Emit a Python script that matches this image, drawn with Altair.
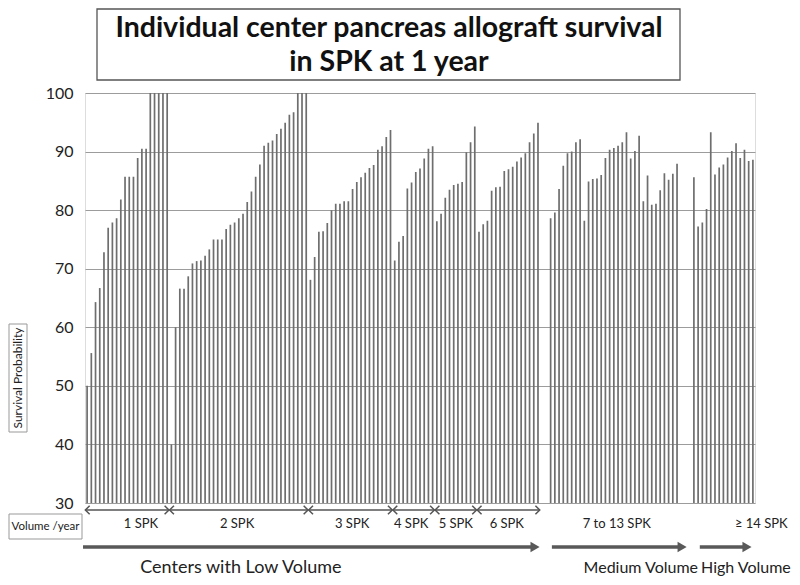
import altair as alt
import pandas as pd

# ---------------- data ----------------
group_names = ["1 SPK", "2 SPK", "3 SPK", "4 SPK", "5 SPK", "6 SPK", "7 to 13 SPK", "≥ 14 SPK"]
spk1 = [50.0, 55.6, 64.3, 66.7, 72.8, 77.0, 77.9, 78.6, 81.8, 85.7, 85.7, 85.7, 88.9, 90.5, 90.5,
        100, 100, 100, 100, 100]
spk2 = [40.0, 60.0, 66.6, 66.6, 68.7, 70.9, 71.3, 71.4, 72.2, 73.3, 75.0, 75.0, 75.0, 76.8, 77.5,
        77.9, 78.6, 79.4, 81.4, 83.2, 85.7, 87.8, 91.0, 91.5, 91.9, 93.0, 93.9, 94.9, 96.3, 96.7,
        100, 100, 100]
spk3 = [68.1, 72.0, 76.3, 76.4, 77.8, 80.0, 81.1, 81.1, 81.5, 81.5, 83.6, 84.8, 85.6, 86.4, 87.2,
        87.7, 90.3, 90.9, 92.5, 93.7]
spk4 = [71.4, 74.6, 75.6, 83.7, 84.7, 86.5, 87.1, 88.8, 90.5, 90.9]
spk5 = [78.1, 79.4, 82.1, 83.5, 84.3, 84.5, 84.8, 89.9, 91.6, 94.3]
spk6 = [76.3, 77.6, 78.2, 83.3, 83.9, 84.0, 86.7, 87.0, 87.4, 88.3, 89.0, 89.7, 91.6, 93.1, 94.9]
medium = [78.6, 79.6, 83.6, 87.6, 89.7, 90.0, 91.6, 92.1, 78.2, 84.9, 85.3, 85.4, 86.0, 88.9, 90.3,
          90.6, 91.0, 91.6, 93.3, 88.8, 90.1, 92.7, 81.5, 85.9, 80.9, 81.1, 83.4, 86.3, 85.2, 86.2,
          87.9]
high = [85.6, 77.2, 77.9, 80.2, 93.3, 86.1, 87.3, 87.8, 89.0, 90.1, 91.4, 88.9, 90.3, 88.4, 88.6]

groups = [spk1, spk2, spk3, spk4, spk5, spk6, medium, high]
empty_slots_before = [0, 0, 0, 0, 0, 0, 2, 3]

y_ticks = [30, 40, 50, 60, 70, 80, 90, 100]
volume_names = ["Centers with Low Volume", "Medium Volume", "High Volume"]

# ---------------- layout (annotation anchors in bar-slot units) ----------------
label_slot = [12.8, 35.6, 62.9, 76.9, 87.5, 99.6, 125.7, 160.0]
long_arrow_from = [-0.97, 110.3, 145.4]
long_arrow_to = [106.3, 141.2, 156.6]
volume_label_slot = [36.5, 131.4, 167.0]

# ---------------- build tables ----------------
rows, spans = [], []
slot = 0
for name, vals, gap in zip(group_names, groups, empty_slots_before):
    slot += gap
    start = slot
    for v in vals:
        rows.append({"slot": slot, "value": v, "group": name})
        slot += 1
    spans.append({"group": name, "start": start - 0.42, "end": slot - 1 + 0.42})
n_slots = slot
bars = pd.DataFrame(rows)
span_df = pd.DataFrame(spans[:6])
labels_df = pd.DataFrame({"group": group_names, "slot": label_slot})
long_df = pd.DataFrame({"name": volume_names, "start": long_arrow_from, "end": long_arrow_to})
vol_df = pd.DataFrame({"name": volume_names, "slot": volume_label_slot})

W, H = 670, 410
FONT = "Lato"
xscale = alt.Scale(domain=[-0.5, n_slots - 0.5], nice=False, zero=False)
yscale = alt.Scale(domain=[30, 100], nice=False, zero=False)
one = pd.DataFrame({"k": [0]})

bar_layer = alt.Chart(bars).mark_rule(color="#6e6e6e", strokeWidth=1.7).encode(
    x=alt.X("slot:Q", scale=xscale, axis=None),
    y=alt.Y("value:Q", scale=yscale,
            axis=alt.Axis(values=y_ticks, grid=True, gridColor="#9c9c9c", gridWidth=1.2,
                          domain=False, ticks=False, labelFontSize=16, labelFont=FONT,
                          labelColor="#222", labelPadding=12, title=None)),
    y2=alt.datum(30),
)

# small double-headed arrows under each low-volume group
small_line = alt.Chart(span_df).mark_rule(color="#555", strokeWidth=1.4).encode(
    x=alt.X("start:Q", scale=xscale), x2="end:Q", y=alt.value(H + 7))
left_head = alt.Chart(span_df).mark_point(shape="M1,-1L0,0L1,1", filled=False, color="#555",
                                          strokeWidth=1.5, size=75, opacity=1).encode(
    x=alt.X("start:Q", scale=xscale), y=alt.value(H + 7))
right_head = alt.Chart(span_df).mark_point(shape="M-1,-1L0,0L-1,1", filled=False, color="#555",
                                           strokeWidth=1.5, size=75, opacity=1).encode(
    x=alt.X("end:Q", scale=xscale), y=alt.value(H + 7))
group_text = alt.Chart(labels_df).mark_text(font=FONT, fontSize=13, color="#222").encode(
    x=alt.X("slot:Q", scale=xscale), y=alt.value(H + 21), text="group:N")

# long arrows
long_line = alt.Chart(long_df).mark_rule(color="#595959", strokeWidth=3.5).encode(
    x=alt.X("start:Q", scale=xscale), x2="end:Q", y=alt.value(H + 44))
long_head = alt.Chart(long_df).mark_point(shape="triangle-right", filled=True, color="#595959",
                                          size=110, opacity=1).encode(
    x=alt.X("end:Q", scale=xscale), y=alt.value(H + 44))
vol_low = alt.Chart(vol_df.iloc[[0]]).mark_text(
    font=FONT, fontSize=18, color="#222", align="center").encode(
    x=alt.X("slot:Q", scale=xscale), y=alt.value(H + 65), text="name:N")
vol_med = alt.Chart(vol_df.iloc[[1]]).mark_text(
    font=FONT, fontSize=16, color="#222", align="center").encode(
    x=alt.X("slot:Q", scale=xscale), y=alt.value(H + 65), text="name:N")
vol_high = alt.Chart(vol_df.iloc[[2]]).mark_text(
    font=FONT, fontSize=16, color="#222", align="right").encode(
    x=alt.X("slot:Q", scale=xscale), y=alt.value(H + 65), text="name:N")

# title box
title_box = alt.Chart(one).mark_rect(fill="white", stroke="#555", strokeWidth=1.3).encode(
    x=alt.value(12), x2=alt.value(595), y=alt.value(-84), y2=alt.value(-13))
title_1 = alt.Chart(one).mark_text(font=FONT, fontSize=28.5, fontWeight="bold", color="#111").encode(
    x=alt.value(304), y=alt.value(-65), text=alt.value("Individual center pancreas allograft survival"))
title_2 = alt.Chart(one).mark_text(font=FONT, fontSize=28.5, fontWeight="bold", color="#111").encode(
    x=alt.value(304), y=alt.value(-31), text=alt.value("in SPK at 1 year"))

# y-axis title box
ytitle_box = alt.Chart(one).mark_rect(fill="white", stroke="#999", strokeWidth=1).encode(
    x=alt.value(-76), x2=alt.value(-58), y=alt.value(231), y2=alt.value(339))
ytitle = alt.Chart(one).mark_text(font=FONT, fontSize=12, color="#222", angle=270).encode(
    x=alt.value(-67), y=alt.value(285), text=alt.value("Survival Probability"))

# "Volume /year" box
vol_box = alt.Chart(one).mark_rect(fill="white", stroke="#999", strokeWidth=1).encode(
    x=alt.value(-76), x2=alt.value(-3), y=alt.value(H + 11), y2=alt.value(H + 36))
vol_box_text = alt.Chart(one).mark_text(font=FONT, fontSize=11.5, color="#222").encode(
    x=alt.value(-39.5), y=alt.value(H + 23.5), text=alt.value("Volume /year"))

chart = alt.layer(
    bar_layer, small_line, left_head, right_head, group_text,
    long_line, long_head, vol_low, vol_med, vol_high,
    title_box, title_1, title_2, ytitle_box, ytitle, vol_box, vol_box_text,
).properties(
    width=W, height=H,
    autosize=alt.AutoSizeParams(type="none"),
    padding={"left": 77, "top": 85, "right": 37, "bottom": 74},
).configure_view(stroke=None).configure(background="white")

chart.save("out.html", embed_options={"renderer": "svg", "actions": False})
